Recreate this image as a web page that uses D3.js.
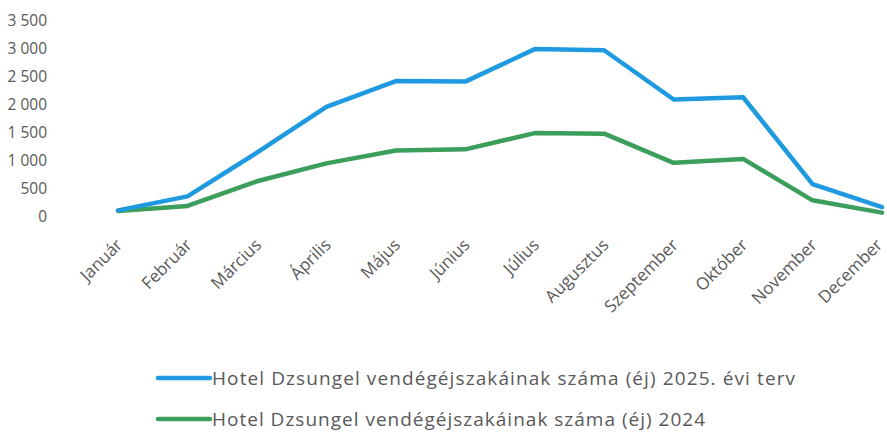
<!DOCTYPE html>
<html><head><meta charset="utf-8">
<script src="https://cdn.jsdelivr.net/npm/d3@7"></script>
<style>body{margin:0;background:#fff}svg{display:block}text{font-family:"Open Sans",Calibri,sans-serif;fill:#595959}</style>
</head><body><svg id="c" width="887" height="432"></svg>
<script>
const months = ["Január","Február","Március","Április","Május","Június","Július","Augusztus","Szeptember","Október","November","December"];
const plan2025 = [100, 350, 1130, 1950, 2410, 2400, 2980, 2960, 2080, 2120, 570, 160];
const actual2024 = [90, 180, 620, 940, 1170, 1190, 1480, 1470, 950, 1020, 280, 60];
const yTicks = [0, 500, 1000, 1500, 2000, 2500, 3000, 3500];
const seriesNames = ["Hotel Dzsungel vendégéjszakáinak száma (éj) 2025. évi terv", "Hotel Dzsungel vendégéjszakáinak száma (éj) 2024"];
const colors = ["#1f9ae0", "#3b9e5c"];

const svg = d3.select("#c");
const x = d3.scalePoint().domain(months).range([118, 882]);
const y = d3.scaleLinear().domain([0, 3500]).range([216, 20]);

// y axis
const ya = svg.append("g").attr("transform", "translate(47,0)")
  .call(d3.axisLeft(y).tickValues(yTicks).tickSize(0).tickPadding(0)
    .tickFormat(v => d3.format(",")(v).replace(/,/g, " ")));
ya.select(".domain").remove();
ya.selectAll("text").style("font-size", "15.5px").style("font-family", "'Open Sans',sans-serif")
  .style("white-space", "pre").attr("fill", "#595959").attr("dy", "0.35em");

// x axis labels
const xa = svg.append("g").attr("transform", "translate(0,226)")
  .call(d3.axisBottom(x).tickSize(0).tickPadding(0));
xa.select(".domain").remove();
xa.selectAll("text").style("font-size", "17px").style("font-family", "'Open Sans',sans-serif").attr("fill", "#595959")
  .attr("text-anchor", "end").attr("dy", "0").attr("y", 0)
  .attr("transform", (d, i) => i === months.length - 1 ? "translate(1,20) rotate(-45)" : "translate(5,20) rotate(-45)");

const line = d3.line().x((d, i) => x(months[i])).y(d => y(d));
[actual2024, plan2025].forEach((s, k) => {
  const idx = 1 - k;
  svg.append("path").datum(s).attr("d", line).attr("fill", "none")
    .attr("stroke", colors[idx]).attr("stroke-width", 4.5).attr("stroke-linejoin", "round").attr("stroke-linecap", "round");
});

// legend
const leg = svg.append("g");
seriesNames.forEach((n, i) => {
  const yy = 378 + i * 41;
  leg.append("line").attr("x1", 158).attr("x2", 210).attr("y1", yy).attr("y2", yy)
    .attr("stroke", colors[i]).attr("stroke-width", 4.5).attr("stroke-linecap", "round");
  leg.append("text").attr("x", 212).attr("y", yy).attr("dy", "0.35em")
    .attr("textLength", i === 0 ? 583 : 493).attr("lengthAdjust", "spacing")
    .style("font-size", "19px").attr("fill", "#5a5560").text(n);
});
</script></body></html>
